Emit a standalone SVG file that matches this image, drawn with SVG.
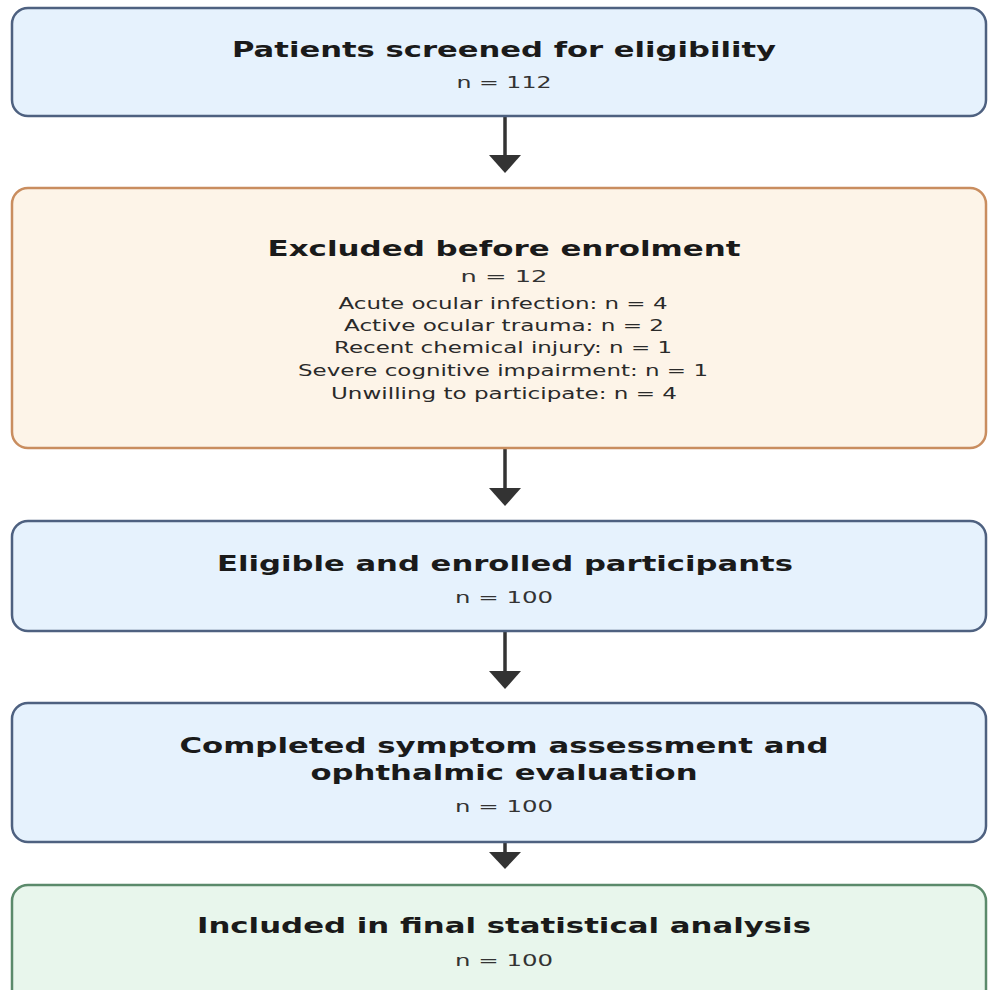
<svg xmlns="http://www.w3.org/2000/svg" width="988" height="990" viewBox="0 0 988 990">
<defs>
<style>
.box{stroke-width:2.5}
.blue{fill:#e6f2fd;stroke:#4e6180}
.orange{fill:#fdf4e8;stroke:#c98d5f}
.green{fill:#e8f6ec;stroke:#5b8a6b}
.t{font-family:"DejaVu Sans","Liberation Sans",sans-serif;font-weight:bold;font-size:20.5px;fill:#1a1a1a;text-anchor:middle}
.n{font-family:"DejaVu Sans","Liberation Sans",sans-serif;font-size:16px;fill:#333;text-anchor:middle}
.i{font-family:"DejaVu Sans","Liberation Sans",sans-serif;font-size:15px;fill:#2a2a2a;text-anchor:middle}
.c{stroke:#333;stroke-width:3.5;fill:none}
.h{fill:#333}
</style>
<marker id="ah" markerUnits="userSpaceOnUse" markerWidth="34" markerHeight="20" refX="34" refY="10" orient="auto">
<path d="M0,0 L34,10 L0,20 Z" class="h"/>
</marker>
</defs>
<rect width="988" height="990" fill="#ffffff"/>
<g id="connectors">
<line class="c" x1="505" y1="117" x2="505" y2="156"/>
<path class="h" d="M489,155 L521,155 L505,173 Z"/>
<line class="c" x1="505" y1="449" x2="505" y2="489"/>
<path class="h" d="M489,488 L521,488 L505,506 Z"/>
<line class="c" x1="505" y1="632" x2="505" y2="672"/>
<path class="h" d="M489,671 L521,671 L505,689 Z"/>
<line class="c" x1="505" y1="843" x2="505" y2="853"/>
<path class="h" d="M489,852 L521,852 L505,869 Z"/>
</g>
<g id="screened">
<rect class="box blue" x="12" y="8" width="974" height="108" rx="16"/>
<text class="t" x="504" y="57" textLength="544" lengthAdjust="spacingAndGlyphs">Patients screened for eligibility</text>
<text class="n" x="504" y="88" textLength="95" lengthAdjust="spacingAndGlyphs">n = 112</text>
</g>
<g id="excluded">
<rect class="box orange" x="12" y="188" width="974" height="260" rx="16"/>
<text class="t" x="504" y="256" textLength="473" lengthAdjust="spacingAndGlyphs">Excluded before enrolment</text>
<text class="n" x="504" y="282" textLength="87" lengthAdjust="spacingAndGlyphs">n = 12</text>
<text class="i" x="503" y="309" textLength="329" lengthAdjust="spacingAndGlyphs">Acute ocular infection: n = 4</text>
<text class="i" x="504" y="331" textLength="320" lengthAdjust="spacingAndGlyphs">Active ocular trauma: n = 2</text>
<text class="i" x="503" y="353" textLength="338" lengthAdjust="spacingAndGlyphs">Recent chemical injury: n = 1</text>
<text class="i" x="503" y="376" textLength="410" lengthAdjust="spacingAndGlyphs">Severe cognitive impairment: n = 1</text>
<text class="i" x="504" y="399" textLength="346" lengthAdjust="spacingAndGlyphs">Unwilling to participate: n = 4</text>
</g>
<g id="enrolled">
<rect class="box blue" x="12" y="521" width="974" height="110" rx="16"/>
<text class="t" x="505" y="571" textLength="576" lengthAdjust="spacingAndGlyphs">Eligible and enrolled participants</text>
<text class="n" x="504" y="603" textLength="98" lengthAdjust="spacingAndGlyphs">n = 100</text>
</g>
<g id="assessed">
<rect class="box blue" x="12" y="703" width="974" height="139" rx="16"/>
<text class="t" x="504" y="753" textLength="649" lengthAdjust="spacingAndGlyphs">Completed symptom assessment and</text>
<text class="t" x="504" y="780" textLength="387" lengthAdjust="spacingAndGlyphs">ophthalmic evaluation</text>
<text class="n" x="504" y="812" textLength="98" lengthAdjust="spacingAndGlyphs">n = 100</text>
</g>
<g id="analysed">
<rect class="box green" x="12" y="885" width="974" height="125" rx="16"/>
<text class="t" x="504" y="933" textLength="614" lengthAdjust="spacingAndGlyphs">Included in final statistical analysis</text>
<text class="n" x="504" y="966" textLength="98" lengthAdjust="spacingAndGlyphs">n = 100</text>
</g>
</svg>
